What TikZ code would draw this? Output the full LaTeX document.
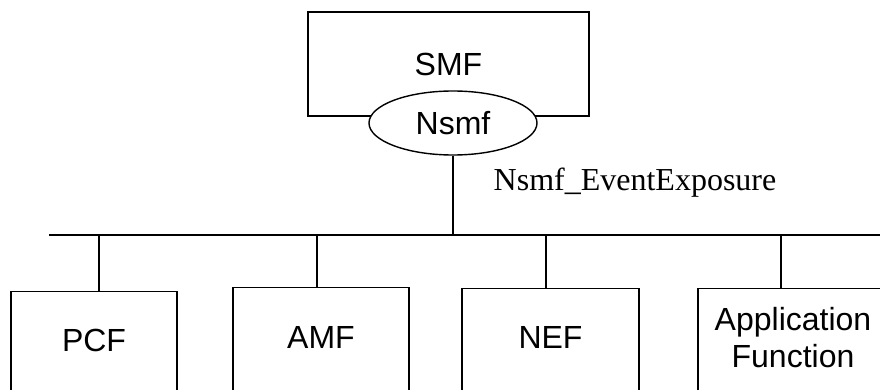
\documentclass[tikz,border=0pt]{standalone}
\usepackage{fontspec}
\setmainfont{Liberation Serif}
\setsansfont{Liberation Sans}
\usetikzlibrary{shapes.geometric}

\begin{document}
\begin{tikzpicture}[x=1pt, y=-1pt, line width=1.4pt,
    nf/.style={draw, rectangle, inner sep=0pt, anchor=north, align=center, text depth=60pt, font=\sffamily\fontsize{32}{37}\selectfont},
    svc/.style={draw, ellipse, fill=white, inner sep=0pt, minimum width=168pt, minimum height=64pt, font=\sffamily\fontsize{32}{37}\selectfont}]

    \useasboundingbox (0,0) rectangle (880,390);
    \clip (0,0) rectangle (880,390);

    \node[draw, rectangle, minimum width=281pt, minimum height=104pt, font=\sffamily\fontsize{32}{37}\selectfont] (smf) at (448.5,64) {SMF};
    \node[svc] (nsmf) at (453,123) {Nsmf};

    \node[nf, minimum width=166pt, text height=60pt] (pcf) at (94,291) {PCF};
    \node[nf, minimum width=176pt, text height=61pt] (amf) at (321,287) {AMF};
    \node[nf, minimum width=177pt, text height=60pt] (nef) at (550.5,288) {NEF};
    \node[nf, minimum width=190pt, text height=79pt] (af) at (793,288) {Application\\Function};

    \coordinate (busL) at (49,235);
    \coordinate (busR) at (880,235);
    \draw (busL) -- (busR);
    \draw (nsmf.south) -- (nsmf.south |- busL);
    \foreach \n/\dx in {pcf/5,amf/-4,nef/-4.5,af/-12}
        \draw ([xshift=\dx pt]\n.north) -- ([xshift=\dx pt]\n.north |- busL);

    \node[anchor=base west, inner sep=0pt, font=\fontsize{32}{38}\selectfont] (evexp) at (493,190) {Nsmf\_EventExposure};

\end{tikzpicture}
\end{document}
